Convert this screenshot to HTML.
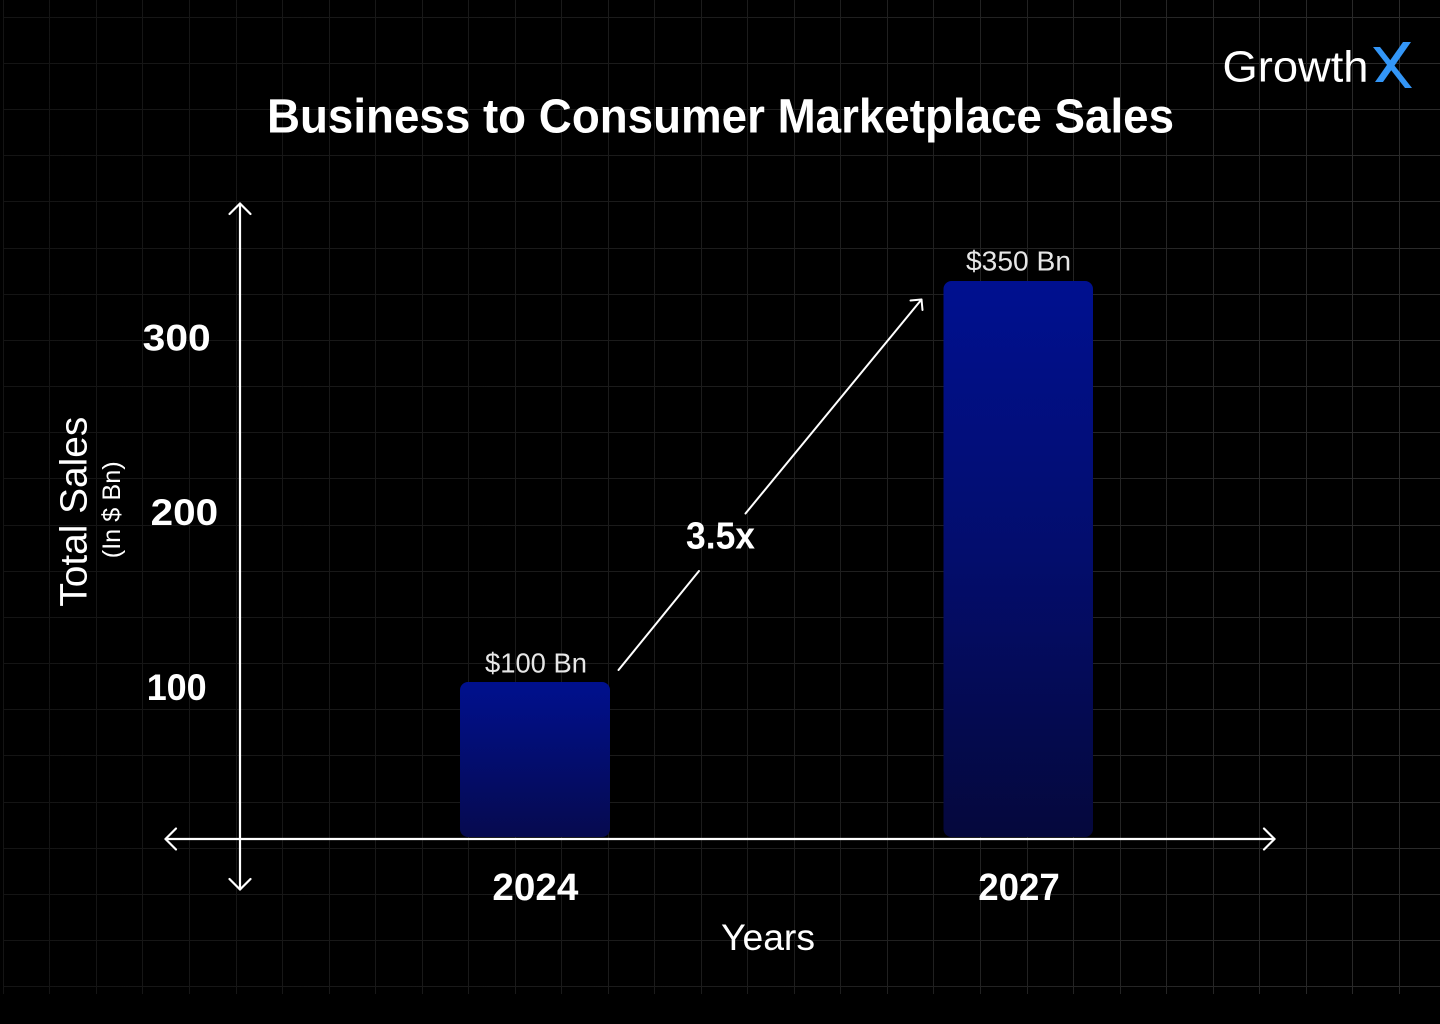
<!DOCTYPE html>
<html>
<head>
<meta charset="utf-8">
<style>
  html,body{margin:0;padding:0;background:#000;}
  svg{display:block;}
  text{font-family:"Liberation Sans", sans-serif;}
</style>
</head>
<body>
<svg width="1440" height="1024" viewBox="0 0 1440 1024" xmlns="http://www.w3.org/2000/svg">
  <defs>
    <linearGradient id="grid" gradientUnits="userSpaceOnUse" x1="0" y1="0" x2="1440" y2="0">
      <stop offset="0" stop-color="#141414"/>
      <stop offset="0.5" stop-color="#1c1c1c"/>
      <stop offset="1" stop-color="#2b2b2b"/>
    </linearGradient>
    <linearGradient id="b1" x1="0" y1="0" x2="0" y2="1">
      <stop offset="0" stop-color="#00108e"/>
      <stop offset="1" stop-color="#060a4f"/>
    </linearGradient>
    <linearGradient id="b2" x1="0" y1="0" x2="0" y2="1">
      <stop offset="0" stop-color="#001090"/>
      <stop offset="0.5" stop-color="#030d6c"/>
      <stop offset="1" stop-color="#05083c"/>
    </linearGradient>
  </defs>

  <rect x="0" y="0" width="1440" height="1024" fill="#000"/>

  <!-- grid -->
  <g stroke="url(#grid)" stroke-width="1" fill="none">
    <path d="M3.5 0V994 M49.5 0V994 M96.5 0V994 M142.5 0V994 M189.5 0V994 M236.5 0V994 M282.5 0V994 M329.5 0V994 M375.5 0V994 M422.5 0V994 M468.5 0V994 M515.5 0V994 M561.5 0V994 M608.5 0V994 M654.5 0V994 M701.5 0V994 M747.5 0V994 M794.5 0V994 M840.5 0V994 M887.5 0V994 M933.5 0V994 M980.5 0V994 M1027.5 0V994 M1073.5 0V994 M1120.5 0V994 M1166.5 0V994 M1213.5 0V994 M1259.5 0V994 M1306.5 0V994 M1352.5 0V994 M1399.5 0V994"/>
    <path d="M3 17.5H1440 M3 63.5H1440 M3 109.5H1440 M3 155.5H1440 M3 201.5H1440 M3 248.5H1440 M3 294.5H1440 M3 340.5H1440 M3 386.5H1440 M3 432.5H1440 M3 478.5H1440 M3 525.5H1440 M3 571.5H1440 M3 617.5H1440 M3 663.5H1440 M3 709.5H1440 M3 755.5H1440 M3 802.5H1440 M3 848.5H1440 M3 894.5H1440 M3 940.5H1440 M3 986.5H1440"/>
  </g>

  <!-- logo -->
  <text x="1222.5" y="81.7" font-size="44" fill="#ffffff" textLength="146" lengthAdjust="spacingAndGlyphs">Growth</text>
  <polygon points="1373,47 1380,47 1412,88 1405,88" fill="#3396f7"/>
  <polygon points="1403,42 1411,42 1383,82 1375,82" fill="#3396f7"/>

  <!-- title -->
  <text x="267" y="132.7" font-size="48" font-weight="700" fill="#ffffff" textLength="907" lengthAdjust="spacingAndGlyphs">Business to Consumer Marketplace Sales</text>

  <!-- bars -->
  <rect x="460" y="682" width="150" height="155" rx="8" ry="8" fill="url(#b1)"/>
  <rect x="943.5" y="281" width="149.5" height="556" rx="8" ry="8" fill="url(#b2)"/>

  <!-- axes -->
  <g stroke="#ffffff" stroke-width="2.2" fill="none" stroke-linecap="round" stroke-linejoin="round">
    <line x1="240" y1="203.5" x2="240" y2="889.5"/>
    <polyline points="229.5,214 240,203.5 250.5,214"/>
    <polyline points="229.5,879 240,889.5 250.5,879"/>
    <line x1="165.5" y1="839" x2="1274.5" y2="839"/>
    <polyline points="176,828.5 165.5,839 176,849.5"/>
    <polyline points="1264,828.5 1274.5,839 1264,849.5"/>
  </g>

  <!-- growth arrow -->
  <g stroke="#ffffff" stroke-width="2" fill="none" stroke-linecap="round" stroke-linejoin="round">
    <line x1="618.5" y1="670" x2="699" y2="571"/>
    <line x1="745.5" y1="513.5" x2="921.5" y2="299.5"/>
    <polyline points="910.5,300.5 921.5,299.5 922.5,310"/>
  </g>
  <text x="686" y="548.3" font-size="38" font-weight="700" fill="#ffffff" textLength="69" lengthAdjust="spacingAndGlyphs">3.5x</text>

  <!-- bar value labels -->
  <text x="485" y="672.3" font-size="28" fill="#e6e6e6" textLength="102" lengthAdjust="spacingAndGlyphs">$100 Bn</text>
  <text x="966" y="270.7" font-size="28" fill="#e6e6e6" textLength="105" lengthAdjust="spacingAndGlyphs">$350 Bn</text>

  <!-- y tick labels -->
  <text x="142.7" y="350.7" font-size="37" font-weight="700" fill="#ffffff" textLength="68" lengthAdjust="spacingAndGlyphs">300</text>
  <text x="150.7" y="525" font-size="37" font-weight="700" fill="#ffffff" textLength="67.5" lengthAdjust="spacingAndGlyphs">200</text>
  <text x="146.7" y="700" font-size="37" font-weight="700" fill="#ffffff" textLength="60" lengthAdjust="spacingAndGlyphs">100</text>

  <!-- y axis title -->
  <text transform="translate(86.7,606.7) rotate(-90)" font-size="38" fill="#ffffff" textLength="190" lengthAdjust="spacingAndGlyphs">Total Sales</text>
  <text transform="translate(119.8,558.3) rotate(-90)" font-size="25" fill="#ffffff" textLength="97" lengthAdjust="spacingAndGlyphs">(In $ Bn)</text>

  <!-- x labels -->
  <text x="492.4" y="900" font-size="38" font-weight="700" fill="#ffffff" textLength="86" lengthAdjust="spacingAndGlyphs">2024</text>
  <text x="978.2" y="900" font-size="38" font-weight="700" fill="#ffffff" textLength="81.6" lengthAdjust="spacingAndGlyphs">2027</text>
  <text x="721" y="950" font-size="37" fill="#ffffff" textLength="94" lengthAdjust="spacingAndGlyphs">Years</text>
</svg>
</body>
</html>
